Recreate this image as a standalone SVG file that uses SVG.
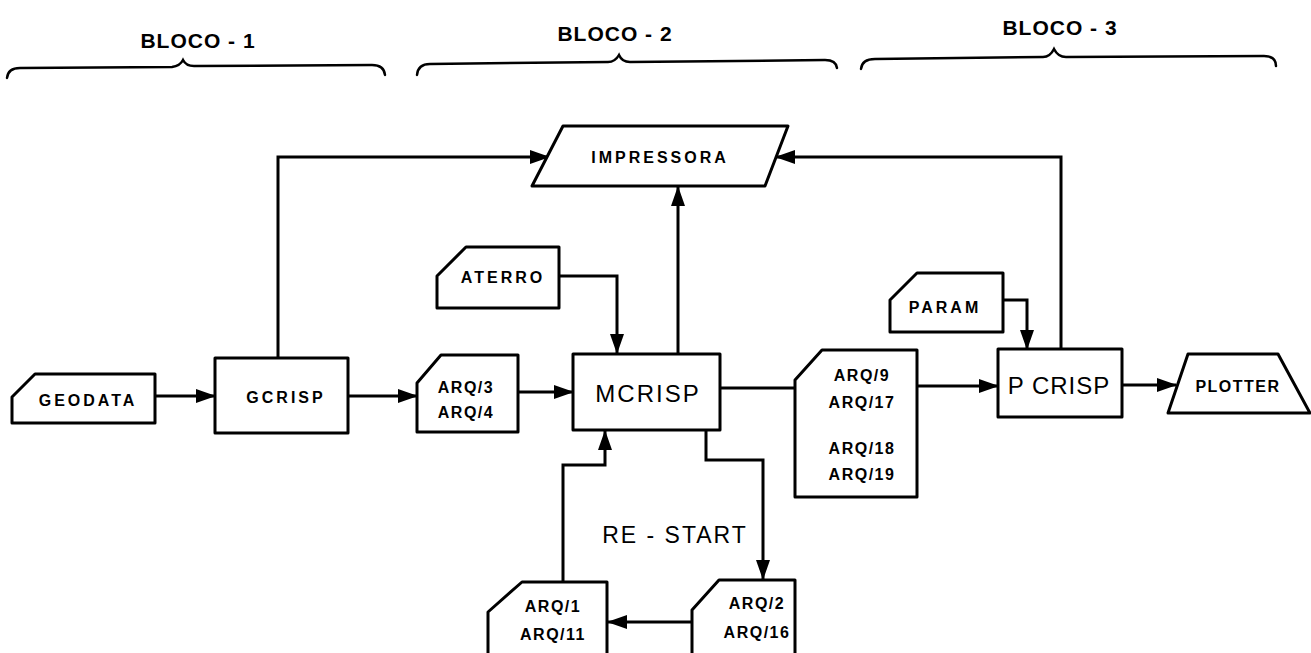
<svg xmlns="http://www.w3.org/2000/svg" width="1311" height="653" viewBox="0 0 1311 653">
<defs>
<marker id="ah" markerUnits="userSpaceOnUse" markerWidth="20" markerHeight="16" refX="19" refY="8" orient="auto">
<path d="M0,1 L20,8 L0,15 Z" fill="#000"/>
</marker>
<style>
.s{fill:#fff;stroke:#000;stroke-width:3;stroke-linejoin:round}
.c{fill:none;stroke:#000;stroke-width:3}
.b{fill:none;stroke:#000;stroke-width:2.5;stroke-linecap:round}
.t{font-family:"Liberation Sans",Arial,sans-serif;font-weight:bold;fill:#000;text-anchor:middle;dominant-baseline:central}
.sm{font-size:16px;letter-spacing:3px}
.ar{font-size:16px;letter-spacing:1.5px}
.bg{font-size:24px;font-weight:normal;letter-spacing:2px}
.bl{font-size:21px;letter-spacing:1px}
</style>
</defs>
<rect width="1311" height="653" fill="#fff"/>
<g id="headers">
<text class="t bl" x="198" y="40">BLOCO - 1</text>
<path class="b" d="M7,78 Q8,68 20,68 L172,67 Q180,66 183,60 Q186,66 194,66 L372,65 Q384,65 385,75"/>
<text class="t bl" x="615" y="33">BLOCO - 2</text>
<path class="b" d="M417,75 Q418,64 430,64 L608,62 Q615,62 619,55 Q622,62 630,62 L825,60 Q836,60 837,68"/>
<text class="t bl" x="1060" y="27">BLOCO - 3</text>
<path class="b" d="M861,69 Q862,59 875,59 L1043,57 Q1050,57 1054,49 Q1058,57 1066,57 L1264,56 Q1276,56 1276,66"/>
</g>
<g id="connectors">
<path class="c" d="M278,358 V157 H549" marker-end="url(#ah)"/>
<path class="c" d="M1061,349 V157 H776" marker-end="url(#ah)"/>
<path class="c" d="M678,354 V187" marker-end="url(#ah)"/>
<path class="c" d="M559,276 H617 V353" marker-end="url(#ah)"/>
<path class="c" d="M155,396 H215" marker-end="url(#ah)"/>
<path class="c" d="M348,396 H417" marker-end="url(#ah)"/>
<path class="c" d="M518,392 H573" marker-end="url(#ah)"/>
<path class="c" d="M720,388 H795"/>
<path class="c" d="M917,386 H998" marker-end="url(#ah)"/>
<path class="c" d="M1003,300 H1027 V349" marker-end="url(#ah)"/>
<path class="c" d="M1122,385 H1176" marker-end="url(#ah)"/>
<path class="c" d="M563,582 V465 H605 V431" marker-end="url(#ah)"/>
<path class="c" d="M706,430 V460 H763 V579" marker-end="url(#ah)"/>
<path class="c" d="M692,622 H608" marker-end="url(#ah)"/>
</g>
<g id="impressora">
<path class="s" d="M563,126 H788 L765,186 H532 Z"/>
<text class="t sm" x="660" y="157">IMPRESSORA</text>
</g>
<g id="aterro">
<path class="s" d="M437,276 L466,247 H559 V308 H437 Z"/>
<text class="t sm" x="503" y="277">ATERRO</text>
</g>
<g id="geodata">
<path class="s" d="M12,397 L35,374 H155 V423 H12 Z"/>
<text class="t sm" x="88" y="400">GEODATA</text>
</g>
<g id="gcrisp">
<rect class="s" x="215" y="358" width="133" height="75"/>
<text class="t sm" x="286" y="397">GCRISP</text>
</g>
<g id="arq3">
<path class="s" d="M417,383 L441,355 H518 V432 H417 Z"/>
<text class="t ar" x="466" y="387">ARQ/3</text>
<text class="t ar" x="466" y="412">ARQ/4</text>
</g>
<g id="mcrisp">
<rect class="s" x="573" y="354" width="147" height="76"/>
<text class="t bg" x="648" y="393">MCRISP</text>
</g>
<g id="arq9">
<path class="s" d="M795,380 L822,350 H917 V497 H795 Z"/>
<text class="t ar" x="862" y="375">ARQ/9</text>
<text class="t ar" x="862" y="402">ARQ/17</text>
<text class="t ar" x="862" y="448">ARQ/18</text>
<text class="t ar" x="862" y="474">ARQ/19</text>
</g>
<g id="param">
<path class="s" d="M890,300 L917,273 H1003 V332 H890 Z"/>
<text class="t sm" x="945" y="307">PARAM</text>
</g>
<g id="pcrisp">
<rect class="s" x="998" y="349" width="124" height="68"/>
<text class="t bg" x="1059" y="385" style="letter-spacing:1px">P CRISP</text>
</g>
<g id="plotter">
<path class="s" d="M1188,354 H1278 L1310,413 H1168 Z"/>
<text class="t ar" x="1238" y="386">PLOTTER</text>
</g>
<g id="restart">
<text class="t bg" x="675" y="535" style="font-size:23px">RE - START</text>
</g>
<g id="arq2">
<path class="s" d="M692,610 L719,580 H795 V660 H692 Z"/>
<text class="t ar" x="757" y="603">ARQ/2</text>
<text class="t ar" x="757" y="632">ARQ/16</text>
</g>
<g id="arq1">
<path class="s" d="M488,612 L522,582 H607 V660 H488 Z"/>
<text class="t ar" x="553" y="606">ARQ/1</text>
<text class="t ar" x="553" y="634">ARQ/11</text>
</g>
</svg>
